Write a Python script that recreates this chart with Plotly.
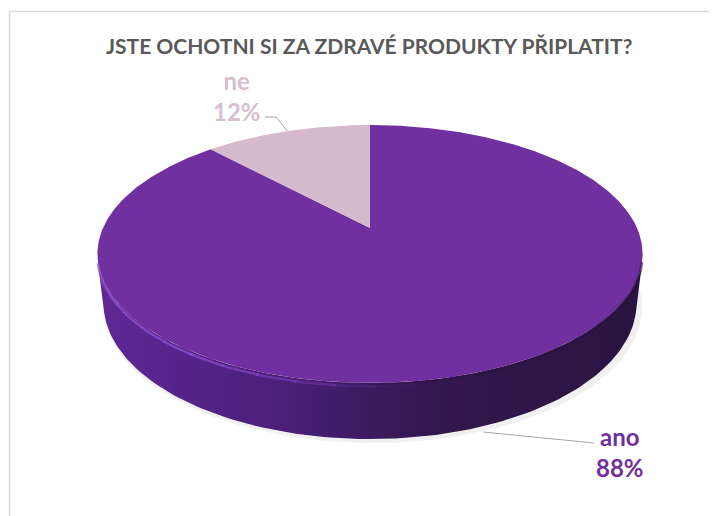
import numpy as np
import plotly.graph_objects as go

# ---- data ----
categories = ["ano", "ne"]
values = [88, 12]
pct_labels = ["88%", "12%"]
slice_colors = ["#7030A0", "#D6BACB"]
label_colors = ["#7030A0", "#D8BFCE"]
title_text = "JSTE OCHOTNI SI ZA ZDRAVÉ PRODUKTY PŘIPLATIT?"

# ---- 3D pie projection (camera geometry, pixel space) ----
W, H = 717, 516
OFF = 8                     # page body margin in the browser
CX, CY = 370.0, 228.0      # projected pie centre
ALPHA = np.radians(27.6)    # camera elevation
DIST = 4.40                 # camera distance (pie radius = 1)
FOC = 1175.0                # focal length in px
DEPTH = 0.209               # pie thickness (radius units)


def project(theta_deg, z=0.0):
    t = np.radians(np.asarray(theta_deg, dtype=float))
    X = np.sin(t)
    Y = np.cos(t)
    yc = Y * np.sin(ALPHA) + z * np.cos(ALPHA)
    d = DIST + Y * np.cos(ALPHA) - z * np.sin(ALPHA)
    return CX + FOC * X / d, CY - FOC * yc / d


total = float(sum(values))
bounds = np.concatenate([[0.0], np.cumsum(values) / total * 360.0])
tang = np.degrees(np.arccos(-1.0 / (DIST * np.cos(ALPHA))))  # silhouette angle

fig = go.Figure()

# soft shadow under the pie
th = np.linspace(0, 360, 241)
sx, sy = project(th, -DEPTH)
sx = CX + (sx - CX) * 1.010 + 3
sy = sy + 4
fig.add_trace(go.Scatter(x=sx, y=sy, fill="toself", mode="lines",
                         line=dict(width=0), fillcolor="rgba(0,0,0,0.06)",
                         hoverinfo="skip", showlegend=False))

# side walls (front, visible part)
for i in range(len(values)):
    a0, a1 = bounds[i], bounds[i + 1]
    lo, hi = max(a0, tang), min(a1, 360 - tang)
    if hi <= lo:
        continue
    tt = np.linspace(lo, hi, 120)
    tx, ty = project(tt, 0.0)
    bx, by = project(tt[::-1], -DEPTH)
    fig.add_trace(go.Scatter(
        x=np.concatenate([tx, bx]), y=np.concatenate([ty, by]),
        fill="toself", mode="lines", line=dict(width=0),
        fillgradient=dict(type="horizontal",
                          colorscale=[[0, "#5f2896"], [0.35, "#4a1f78"],
                                      [0.6, "#341750"], [1, "#2a1441"]]),
        hoverinfo="skip", showlegend=False))

# top faces
for i in range(len(values)):
    a0, a1 = bounds[i], bounds[i + 1]
    tt = np.linspace(a0, a1, max(20, int((a1 - a0) * 2)))
    tx, ty = project(tt, 0.0)
    fig.add_trace(go.Scatter(
        x=np.concatenate([[CX], tx, [CX]]), y=np.concatenate([[CY], ty, [CY]]),
        fill="toself", mode="lines", line=dict(width=0),
        fillcolor=slice_colors[i], name=categories[i],
        hoverinfo="skip", showlegend=False))

# bevel highlight on front-left rim, fading towards the front
edges = np.linspace(172, 360 - tang, 13)
for k in range(len(edges) - 1):
    tt = np.linspace(edges[k], edges[k + 1] + 0.5, 12)
    hx, hy = project(tt, -0.012)
    a = 0.7 * min(1.0, (k + 0.5) / 6.0)
    fig.add_trace(go.Scatter(x=hx, y=hy, mode="lines",
                             line=dict(color=f"rgba(150,80,215,{a:.2f})", width=2.5),
                             hoverinfo="skip", showlegend=False))
# dark bevel on front-right rim, fading towards the front
edges = np.linspace(tang, 185, 11)
for k in range(len(edges) - 1):
    tt = np.linspace(edges[k] - 0.5, edges[k + 1], 12)
    hx, hy = project(tt, -0.006)
    a = 0.5 * min(1.0, (len(edges) - 1.5 - k) / 5.0)
    fig.add_trace(go.Scatter(x=hx, y=hy, mode="lines",
                             line=dict(color=f"rgba(40,15,60,{max(a, 0):.2f})", width=3),
                             hoverinfo="skip", showlegend=False))

# data labels with leader lines
mid = [(bounds[i] + bounds[i + 1]) / 2 for i in range(len(values))]
label_pos = [(620, 452), (237, 96)]
# ano: leader from bottom rim
ax0, ay0 = project(mid[0], -DEPTH)
fig.add_trace(go.Scatter(x=[ax0 - 4, 594], y=[ay0 + 7, 443], mode="lines",
                         line=dict(color="#a6a6a6", width=1),
                         hoverinfo="skip", showlegend=False))
# ne: leader from top rim
nx0, ny0 = project(mid[1], 0.0)
fig.add_trace(go.Scatter(x=[nx0, nx0 - 11, 265], y=[ny0, 117, 117], mode="lines",
                         line=dict(color="#a6a6a6", width=1),
                         hoverinfo="skip", showlegend=False))

for i in range(len(values)):
    lx, ly = label_pos[i]
    fig.add_annotation(x=lx, y=ly, xref="x", yref="y", showarrow=False,
                       text=f"{categories[i]}<br>{pct_labels[i]}",
                       align="center",
                       font=dict(family="Lato, Liberation Sans, sans-serif",
                                 size=24, color=label_colors[i], weight="bold"))

fig.add_annotation(x=369, y=45, xref="x", yref="y", showarrow=False,
                   text=title_text,
                   font=dict(family="Lato, Liberation Sans, sans-serif",
                             size=21, color="#595959", weight="bold"))

# chart-area border
fig.add_shape(type="rect", x0=9.5, y0=11.5, x1=W + 10, y1=H + 10,
              xref="x", yref="y", line=dict(color="#d9d9d9", width=1.5))

fig.update_layout(
    width=W - OFF, height=H - OFF, margin=dict(l=0, r=0, t=0, b=0),
    paper_bgcolor="white", plot_bgcolor="white",
    xaxis=dict(range=[OFF, W], visible=False, fixedrange=True),
    yaxis=dict(range=[H, OFF], visible=False, fixedrange=True),
)
fig.write_html("out.html")
